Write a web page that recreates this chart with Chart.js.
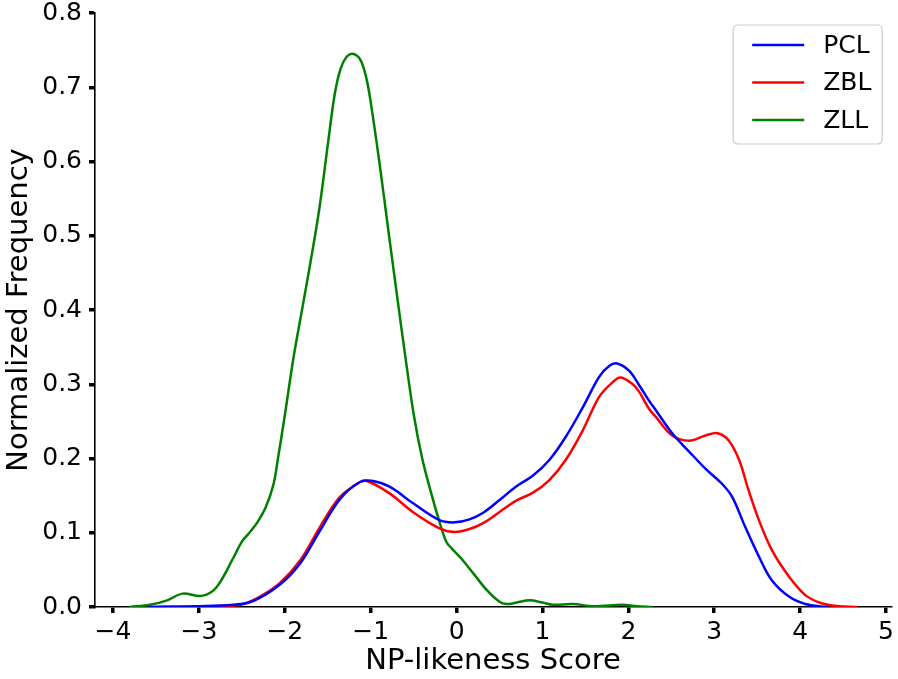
<!DOCTYPE html>
<html>
<head>
<meta charset="utf-8">
<script src="https://cdn.jsdelivr.net/npm/chart.js@4/dist/chart.umd.min.js"></script>
<style>
html,body{margin:0;padding:0;background:#fff;}
#wrap{width:898px;height:679px;position:relative;}
</style>
</head>
<body>
<div id="wrap"><canvas id="c"></canvas></div>
<script>
const seriesLabels = ['PCL', 'ZBL', 'ZLL'];
const xTickValues = [-4, -3, -2, -1, 0, 1, 2, 3, 4, 5];
const yTickValues = [0, 0.1, 0.2, 0.3, 0.4, 0.5, 0.6, 0.7, 0.8];

const pclX = [-3.57, -3.0, -2.6, -2.37, -2.06, -1.82, -1.59, -1.36, -1.13, -0.99, -0.78, -0.51, -0.2, -0.02, 0.15, 0.31, 0.5, 0.69, 0.89, 1.08, 1.27, 1.47, 1.66, 1.78, 1.87, 2.01, 2.13, 2.24, 2.32, 2.51, 2.71, 2.90, 3.09, 3.21, 3.36, 3.52, 3.67, 3.87, 4.06, 4.3];
const pclY = [0, 0.001, 0.003, 0.008, 0.030, 0.059, 0.103, 0.145, 0.168, 0.170, 0.162, 0.140, 0.117, 0.114, 0.118, 0.127, 0.144, 0.162, 0.177, 0.198, 0.229, 0.269, 0.310, 0.325, 0.328, 0.318, 0.298, 0.278, 0.265, 0.234, 0.209, 0.186, 0.166, 0.148, 0.108, 0.068, 0.036, 0.014, 0.004, 0];

const zblX = [-3.57, -3.0, -2.52, -2.29, -2.06, -1.82, -1.59, -1.36, -1.13, -1.05, -0.78, -0.51, -0.2, -0.02, 0.15, 0.31, 0.5, 0.69, 0.89, 1.08, 1.27, 1.47, 1.66, 1.82, 1.91, 2.05, 2.13, 2.24, 2.32, 2.51, 2.71, 2.90, 3.04, 3.17, 3.29, 3.40, 3.52, 3.67, 3.87, 4.06, 4.25, 4.45, 4.65];
const zblY = [0, 0.001, 0.003, 0.014, 0.032, 0.063, 0.108, 0.148, 0.168, 0.170, 0.153, 0.128, 0.106, 0.101, 0.105, 0.113, 0.128, 0.143, 0.154, 0.171, 0.198, 0.238, 0.283, 0.303, 0.309, 0.300, 0.289, 0.267, 0.256, 0.231, 0.224, 0.231, 0.234, 0.224, 0.198, 0.157, 0.117, 0.077, 0.041, 0.016, 0.005, 0.001, 0];

const zllX = [-3.8, -3.57, -3.37, -3.19, -2.97, -2.8, -2.6, -2.5, -2.42, -2.32, -2.22, -2.13, -2.08, -2.0, -1.9, -1.8, -1.7, -1.6, -1.5, -1.42, -1.35, -1.28, -1.21, -1.12, -1.05, -1.0, -0.9, -0.8, -0.7, -0.6, -0.5, -0.4, -0.3, -0.2, -0.12, -0.05, 0.05, 0.19, 0.35, 0.5, 0.58, 0.7, 0.85, 1.0, 1.12, 1.35, 1.6, 1.93, 2.1, 2.27];
const zllY = [0, 0.003, 0.009, 0.018, 0.015, 0.026, 0.066, 0.088, 0.099, 0.114, 0.135, 0.166, 0.200, 0.258, 0.335, 0.400, 0.465, 0.535, 0.622, 0.690, 0.725, 0.741, 0.745, 0.737, 0.712, 0.680, 0.600, 0.512, 0.425, 0.340, 0.260, 0.200, 0.155, 0.115, 0.088, 0.078, 0.066, 0.046, 0.023, 0.007, 0.004, 0.006, 0.009, 0.006, 0.003, 0.004, 0.001, 0.003, 0.001, 0];

const seriesColors = ['#0000ff', '#ff0000', '#008000'];

function pts(xs, ys) { return xs.map((x, i) => ({x: x, y: ys[i]})); }

const FONT = 'DejaVu Sans';

const legendPlugin = {
  id: 'boxLegend',
  afterDraw(chart) {
    const ctx = chart.ctx;
    const ca = chart.chartArea;
    const w = 149, h = 119;
    const x0 = ca.right - 9 - w, y0 = ca.top + 12;
    ctx.save();
    ctx.fillStyle = 'rgba(255,255,255,0.8)';
    ctx.strokeStyle = '#cccccc';
    ctx.lineWidth = 1.2;
    const r = 5;
    ctx.beginPath();
    ctx.moveTo(x0 + r, y0);
    ctx.lineTo(x0 + w - r, y0);
    ctx.quadraticCurveTo(x0 + w, y0, x0 + w, y0 + r);
    ctx.lineTo(x0 + w, y0 + h - r);
    ctx.quadraticCurveTo(x0 + w, y0 + h, x0 + w - r, y0 + h);
    ctx.lineTo(x0 + r, y0 + h);
    ctx.quadraticCurveTo(x0, y0 + h, x0, y0 + h - r);
    ctx.lineTo(x0, y0 + r);
    ctx.quadraticCurveTo(x0, y0, x0 + r, y0);
    ctx.closePath();
    ctx.fill();
    ctx.stroke();
    ctx.font = '25px "' + FONT + '"';
    ctx.textBaseline = 'middle';
    ctx.textAlign = 'left';
    chart.data.datasets.forEach((ds, i) => {
      const yy = y0 + 20 + i * 37.5;
      ctx.strokeStyle = ds.borderColor;
      ctx.lineWidth = 2.5;
      ctx.beginPath();
      ctx.moveTo(x0 + 19, yy);
      ctx.lineTo(x0 + 71, yy);
      ctx.stroke();
      ctx.fillStyle = '#000';
      ctx.fillText(ds.label, x0 + 90, yy + 1);
    });
    ctx.restore();
  }
};

new Chart(document.getElementById('c'), {
  type: 'line',
  data: {
    datasets: [
      {label: seriesLabels[0], data: pts(pclX, pclY), borderColor: seriesColors[0]},
      {label: seriesLabels[1], data: pts(zblX, zblY), borderColor: seriesColors[1]},
      {label: seriesLabels[2], data: pts(zllX, zllY), borderColor: seriesColors[2]}
    ]
  },
  options: {
    responsive: true,
    maintainAspectRatio: false,
    animation: false,
    devicePixelRatio: 1,
    layout: {padding: {left: 0, right: 4, top: 0, bottom: 0}},
    elements: {
      point: {radius: 0},
      line: {borderWidth: 2.5, tension: 0.35, fill: false, borderJoinStyle: 'round', borderCapStyle: 'round'}
    },
    plugins: {legend: {display: false}, tooltip: {enabled: false}},
    scales: {
      x: {
        type: 'linear',
        min: -4.21,
        max: 5.06,
        afterFit(s) { s.height = 72; },
        afterBuildTicks(s) { s.ticks = xTickValues.map(v => ({value: v})); },
        ticks: {
          font: {family: FONT, size: 25},
          color: '#000',
          padding: 4,
          maxRotation: 0,
          callback: v => (v < 0 ? '\u2212' + Math.abs(v) : String(v))
        },
        grid: {display: true, drawOnChartArea: false, drawTicks: true, tickLength: 6, color: '#000', lineWidth: 3.5},
        border: {display: true, color: '#000', width: 1.6},
        title: {display: true, text: 'NP-likeness Score', color: '#000', font: {family: FONT, size: 29}, padding: {top: 3, bottom: 0}}
      },
      y: {
        type: 'linear',
        min: 0,
        max: 0.8,
        afterFit(s) { s.width = 95; },
        afterBuildTicks(s) { s.ticks = yTickValues.map(v => ({value: v})); },
        ticks: {
          font: {family: FONT, size: 25, lineHeight: 0.48},
          color: '#000',
          padding: 7,
          callback: v => Number(v).toFixed(1)
        },
        grid: {display: true, drawOnChartArea: false, drawTicks: true, tickLength: 6, color: '#000', lineWidth: 3.5},
        border: {display: true, color: '#000', width: 1.6},
        title: {display: true, text: 'Normalized Frequency', color: '#000', font: {family: FONT, size: 29}, padding: {top: 2, bottom: 0}}
      }
    }
  },
  plugins: [legendPlugin]
});
</script>
</body>
</html>
